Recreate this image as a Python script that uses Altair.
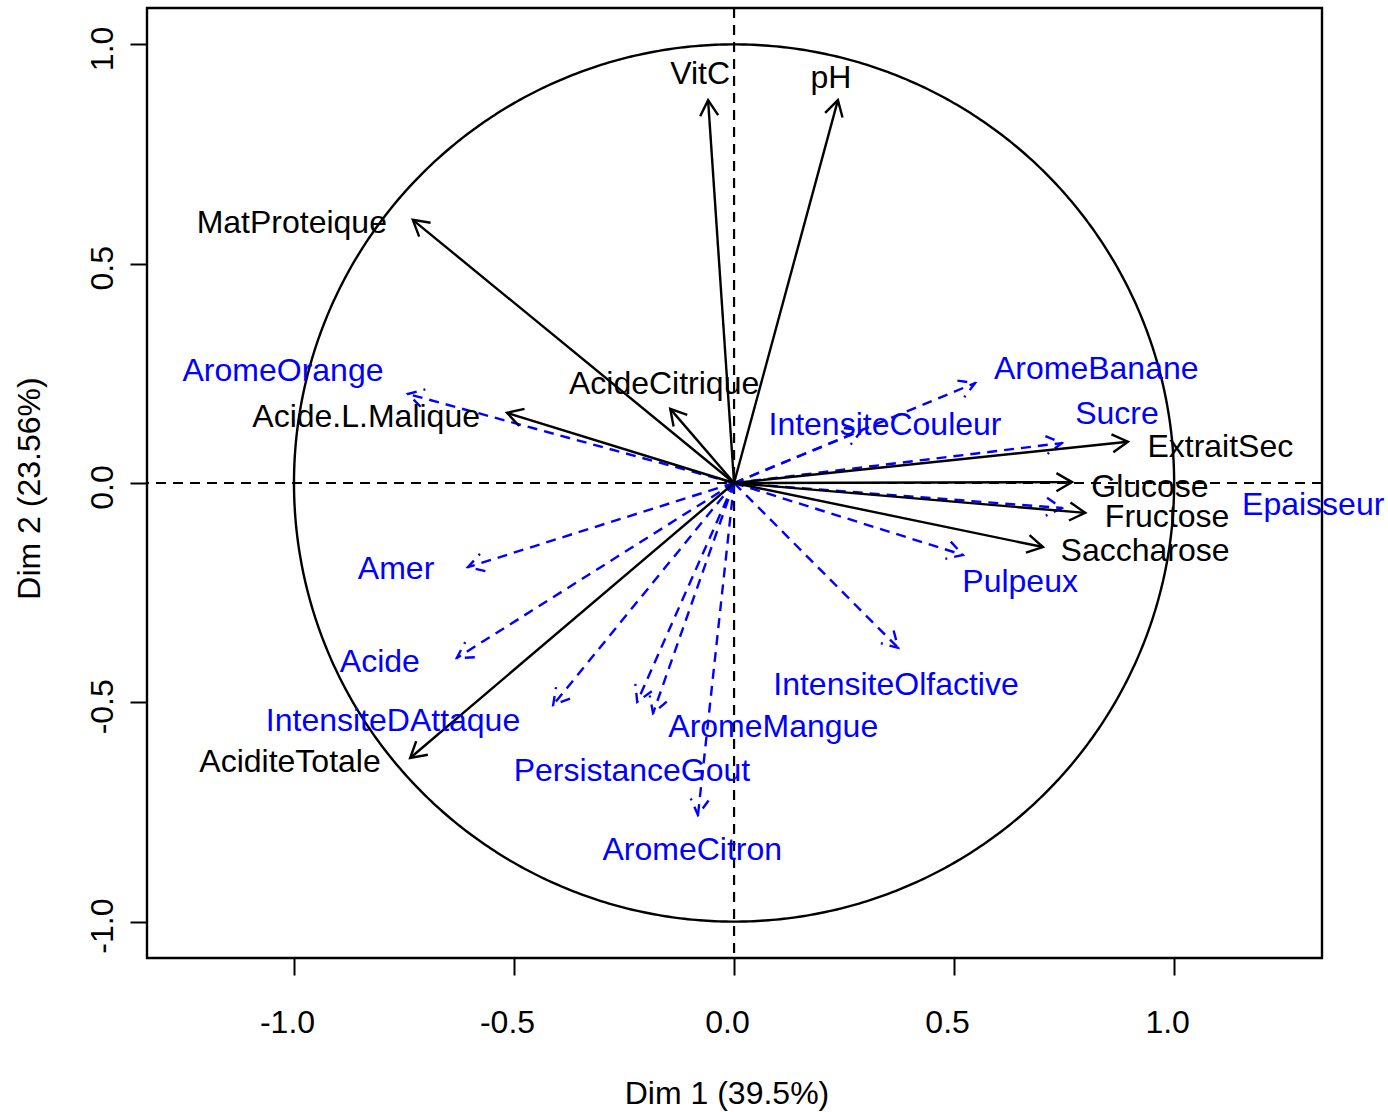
import numpy as np
import pandas as pd
import altair as alt

# ---------------- data ----------------
active_names = ["VitC", "pH", "MatProteique", "AcideCitrique", "Acide.L.Malique",
                "AciditeTotale", "ExtraitSec", "Glucose", "Fructose", "Saccharose"]
active_dim1 = [-0.059, 0.236, -0.730, -0.145, -0.516, -0.736, 0.895, 0.768, 0.798, 0.702]
active_dim2 = [0.873, 0.873, 0.600, 0.169, 0.160, -0.627, 0.094, 0.002, -0.068, -0.146]
active_lab1 = [-0.077, 0.220, -1.005, -0.159, -0.836, -1.009, 1.105, 0.945, 0.984, 0.934]
active_lab2 = [0.933, 0.924, 0.593, 0.226, 0.151, -0.636, 0.082, -0.009, -0.078, -0.155]

supp_names = ["AromeOrange", "Amer", "Acide", "IntensiteDAttaque", "PersistanceGout",
              "AromeMangue", "AromeCitron", "IntensiteOlfactive", "Pulpeux",
              "Epaisseur", "Sucre", "IntensiteCouleur", "AromeBanane"]
supp_dim1 = [-0.741, -0.605, -0.630, -0.411, -0.220, -0.184, -0.082, 0.373, 0.520,
             0.745, 0.745, 0.290, 0.548]
supp_dim2 = [0.203, -0.192, -0.399, -0.506, -0.499, -0.525, -0.757, -0.376, -0.164,
             -0.057, 0.091, 0.120, 0.228]
supp_lab1 = [-1.025, -0.768, -0.805, -0.775, -0.232, 0.089, -0.095, 0.368, 0.650,
             1.316, 0.870, 0.343, 0.823]
supp_lab2 = [0.255, -0.196, -0.408, -0.543, -0.657, -0.556, -0.837, -0.461, -0.226,
             -0.050, 0.157, 0.132, 0.260]

x_title = "Dim 1 (39.5%)"
y_title = "Dim 2 (23.56%)"
tick_values = [-1.0, -0.5, 0.0, 0.5, 1.0]

# ---------------- layout ----------------
W, H = 1175, 950
XDOM = [-1.334, 1.336]
YDOM = [-1.083, 1.083]
px_x = W / (XDOM[1] - XDOM[0])
px_y = H / (YDOM[1] - YDOM[0])
FONT = "Liberation Sans"
FS = 32
BLUE = "#0000FF"
LW = 2.4

def frame(names, d1, d2, l1, l2, group):
    df = pd.DataFrame({"name": names, "x": d1, "y": d2, "lx": l1, "ly": l2})
    df["x0"] = 0.0
    df["y0"] = 0.0
    df["group"] = group
    ang = np.degrees(np.arctan2(df["x"] * px_x, df["y"] * px_y))
    df["angle"] = np.mod(ang, 360.0)
    return df

act = frame(active_names, active_dim1, active_dim2, active_lab1, active_lab2, "active")
sup = frame(supp_names, supp_dim1, supp_dim2, supp_lab1, supp_lab2, "supp")

theta = np.linspace(0, 2 * np.pi, 721)
circle = pd.DataFrame({"cx": np.cos(theta), "cy": np.sin(theta), "i": np.arange(len(theta))})
zero = pd.DataFrame({"z": [0.0]})

xs = alt.Scale(domain=XDOM, nice=False, zero=False)
ys = alt.Scale(domain=YDOM, nice=False, zero=False)
minus_fix = "replace(datum.label, '\u2212', '-')"

xaxis = alt.Axis(values=tick_values, format=".1f", labelExpr=minus_fix, grid=False,
                 domain=False, tickSize=17, tickWidth=2, tickColor="black",
                 labelFont=FONT, labelFontSize=FS, labelColor="black",
                 labelBaseline="middle", labelPadding=47, labelFlush=False,
                 labelOverlap=False, labelOffset=-7, title=x_title, titleFont=FONT,
                 titleFontSize=FS, titleFontWeight="normal", titleColor="black",
                 titleY=135, titleBaseline="middle", titleX=W / 2 - 8)
yaxis = alt.Axis(values=tick_values, format=".1f", labelExpr=minus_fix, grid=False,
                 domain=False, tickSize=17, tickWidth=2, tickColor="black",
                 labelFont=FONT, labelFontSize=FS, labelColor="black",
                 labelAngle=270, labelAlign="center", labelBaseline="middle",
                 labelPadding=28, labelFlush=False, labelOverlap=False, labelOffset=4,
                 title=y_title, titleFont=FONT, titleFontSize=FS,
                 titleFontWeight="normal", titleColor="black", titleAngle=270,
                 titleX=-118, titleY=H / 2 + 5, titleAlign="center",
                 titleBaseline="middle")

circ = alt.Chart(circle).mark_line(color="black", strokeWidth=LW).encode(
    x=alt.X("cx:Q", scale=xs, axis=xaxis),
    y=alt.Y("cy:Q", scale=ys, axis=yaxis),
    order="i:Q",
)

vline = alt.Chart(zero).mark_rule(color="black", strokeWidth=2.2, strokeDash=[10, 7]).encode(
    x=alt.X("z:Q", scale=xs))
hline = alt.Chart(zero).mark_rule(color="black", strokeWidth=2.2, strokeDash=[10, 7]).encode(
    y=alt.Y("z:Q", scale=ys))

HEAD = "M -0.5 0.866 L 0 0 L 0.5 0.866"
HEAD_SIZE = 36 * 36

def arrows(df, color, dash):
    kw = {"strokeDash": dash} if dash else {}
    shaft = alt.Chart(df).mark_rule(color=color, strokeWidth=LW, **kw).encode(
        x=alt.X("x0:Q", scale=xs), y=alt.Y("y0:Q", scale=ys),
        x2="x:Q", y2="y:Q")
    head = alt.Chart(df).mark_point(shape=HEAD, filled=False, stroke=color,
                                    strokeWidth=LW, size=HEAD_SIZE, opacity=1, **kw).encode(
        x=alt.X("x:Q", scale=xs), y=alt.Y("y:Q", scale=ys),
        angle=alt.Angle("angle:Q", scale=None))
    text = alt.Chart(df).mark_text(font=FONT, fontSize=FS, color=color,
                                   align="center", baseline="middle").encode(
        x=alt.X("lx:Q", scale=xs), y=alt.Y("ly:Q", scale=ys), text="name:N")
    return shaft, head, text

s_sh, s_hd, s_tx = arrows(sup, BLUE, [10, 7])
a_sh, a_hd, a_tx = arrows(act, "black", None)

chart = alt.layer(circ, vline, hline, s_sh, s_hd, a_sh, a_hd, a_tx, s_tx).properties(
    width=W, height=H,
    background="white",
    autosize=alt.AutoSizeParams(type="none"),
    padding={"left": 147, "top": 8, "right": 66, "bottom": 154},
).configure_view(stroke="black", strokeWidth=2.4)

chart.save("out.html", embed_options={"renderer": "svg", "actions": False})
